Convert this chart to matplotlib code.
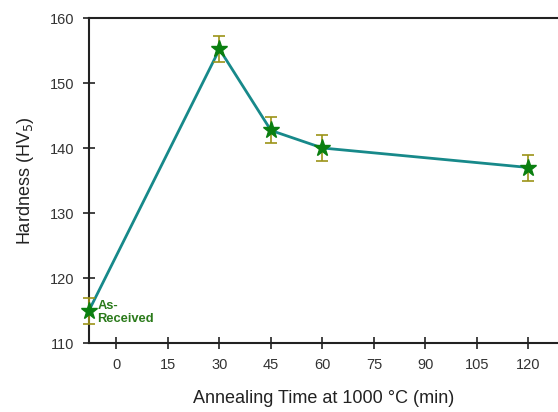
import matplotlib
matplotlib.use("Agg")
import matplotlib.pyplot as plt

plt.rcParams['font.family'] = ['Liberation Sans', 'DejaVu Sans']

# Annealing time (min); the as-received state sits at the left edge of the axis
times = [-8, 30, 45, 60, 120]
hardness = [115.0, 155.2, 142.7, 140.0, 137.0]
errors = [2.0, 2.0, 2.0, 2.0, 2.0]
xticks = [0, 15, 30, 45, 60, 75, 90, 105, 120]
yticks = [110, 120, 130, 140, 150, 160]

fig = plt.figure(figsize=(5.58, 4.12), dpi=100)
ax = fig.add_axes([89/558, 1 - 343/412, 1 - 89/558, (343 - 18)/412])

ax.plot(times, hardness, color='#17898a', lw=2, zorder=2, clip_on=False)
ax.errorbar(times, hardness, yerr=errors, fmt='none', ecolor='#9c9418',
            elinewidth=1.2, capsize=4.5, capthick=1.2, zorder=3, clip_on=False)
ax.plot(times, hardness, ls='none', marker='*', ms=12.5, color='#0a7f10',
        zorder=4, clip_on=False)

ax.text(times[0] + 2.5, hardness[0] - 0.3, 'As-\nReceived', color='#2a7a1a',
        fontsize=9.3, fontweight='bold', va='center', ha='left', linespacing=1.1)

ax.set_xlim(-8, 128.6)
ax.set_ylim(110, 160)
ax.set_xticks(xticks)
ax.set_yticks(yticks)
ax.tick_params(direction='inout', length=9, width=1.2, labelsize=10.5,
               colors='#222222', labelcolor='#333333', pad=6)
for side in ['left', 'bottom', 'top']:
    ax.spines[side].set_linewidth(1.5)
    ax.spines[side].set_color('#222222')
ax.spines['right'].set_visible(False)

ax.set_xlabel('Annealing Time at 1000 °C (min)', fontsize=13, labelpad=13,
              color='#222222')
ax.set_ylabel('Hardness (HV$_5$)', fontsize=13, labelpad=10, color='#222222')

fig.savefig('out.png', dpi=100)
